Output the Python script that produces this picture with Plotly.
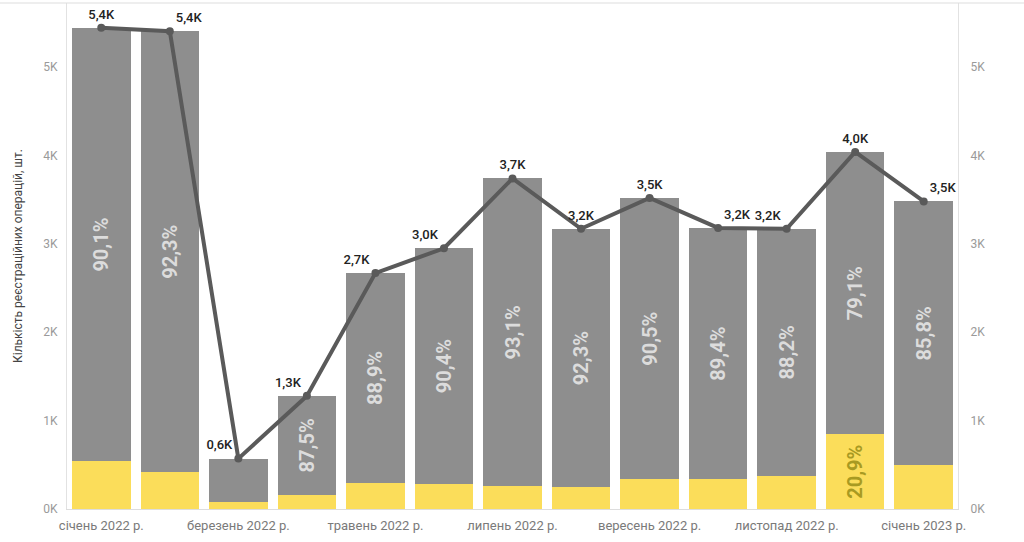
import plotly.graph_objects as go

months = ["січень 2022 р.", "лютий 2022 р.", "березень 2022 р.", "квітень 2022 р.",
          "травень 2022 р.", "червень 2022 р.", "липень 2022 р.", "серпень 2022 р.",
          "вересень 2022 р.", "жовтень 2022 р.", "листопад 2022 р.", "грудень 2022 р.",
          "січень 2023 р."]
yellow_vals = [539, 416, 80, 160, 296, 283, 258, 244, 334, 337, 374, 844, 494]
grey_vals = [4906, 4989, 490, 1120, 2374, 2667, 3482, 2926, 3186, 2843, 2796, 3196, 2986]
totals = [5445, 5405, 570, 1280, 2670, 2950, 3740, 3170, 3520, 3180, 3170, 4040, 3480]
grey_labels = ["90,1%", "92,3%", "", "87,5%", "88,9%", "90,4%", "93,1%", "92,3%",
               "90,5%", "89,4%", "88,2%", "79,1%", "85,8%"]
yellow_labels = ["", "", "", "", "", "", "", "", "", "", "", "20,9%", ""]
total_labels = ["5,4K", "5,4K", "0,6K", "1,3K", "2,7K", "3,0K", "3,7K", "3,2K",
                "3,5K", "3,2K", "3,2K", "4,0K", "3,5K"]
tick_show = ["січень 2022 р.", "березень 2022 р.", "травень 2022 р.", "липень 2022 р.",
             "вересень 2022 р.", "листопад 2022 р.", "січень 2023 р."]
y_ticks = [0, 1000, 2000, 3000, 4000, 5000]
y_tick_text = ["0K", "1K", "2K", "3K", "4K", "5K"]

FONT = "Roboto"
YMAX = 5725
label_pos = ["top center", "top right", "top left", "top left", "top left", "top left",
             "top center", "top center", "top center", "top right", "top left",
             "top center", "top right"]

fig = go.Figure()
fig.add_trace(go.Bar(
    x=months, y=yellow_vals, marker_color="#FBDD5A", marker_line_width=0,
    text=yellow_labels, textposition="inside", insidetextanchor="middle",
    textangle=-90, textfont=dict(family=FONT, size=20, color="#A89A22", weight="bold"),
    hoverinfo="skip", showlegend=False))
fig.add_trace(go.Bar(
    x=months, y=grey_vals, marker_color="#8E8E8E", marker_line_width=0,
    text=grey_labels, textposition="inside", insidetextanchor="middle",
    textangle=-90, textfont=dict(family=FONT, size=20, color="#DCDCDC", weight="bold"),
    hoverinfo="skip", showlegend=False))
fig.add_trace(go.Scatter(
    x=months, y=totals, mode="lines+markers+text",
    line=dict(color="#5A5A5A", width=4), marker=dict(color="#5A5A5A", size=8),
    text=total_labels, textposition=label_pos,
    textfont=dict(family=FONT, size=13, color="#222222", weight=500),
    cliponaxis=False, showlegend=False, hoverinfo="skip"))
# invisible trace for right axis
fig.add_trace(go.Scatter(x=months, y=totals, yaxis="y2", mode="markers",
                         marker=dict(opacity=0), showlegend=False, hoverinfo="skip"))

fig.update_layout(
    width=1024, height=542,
    margin=dict(l=67, r=66, t=3, b=33, autoexpand=False),
    paper_bgcolor="white", plot_bgcolor="white",
    barmode="stack", bargap=0.145,
    uniformtext=dict(mode="show", minsize=20),
    font=dict(family=FONT),
    xaxis=dict(categoryorder="array", categoryarray=months, range=[-0.5, len(months) - 0.5],
               tickmode="array", tickvals=tick_show, ticktext=tick_show,
               tickfont=dict(family=FONT, size=13, color="#7A7A7A"),
               showline=True, linecolor="#DDDDDD", linewidth=1,
               ticks="outside", ticklen=4, tickcolor="rgba(0,0,0,0)",
               showgrid=False, mirror=False, automargin=False),
    yaxis=dict(range=[0, YMAX], tickvals=y_ticks, ticktext=y_tick_text,
               tickfont=dict(family=FONT, size=12, color="#9A9A9A"),
               showgrid=False, zeroline=False, showline=True, linecolor="#E2E2E2",
               ticks="outside", ticklen=6, tickcolor="rgba(0,0,0,0)", automargin=False,
               title=dict(text="Кількість реєстраційних операцій, шт.",
                          font=dict(family=FONT, size=12, color="#444444"), standoff=18)),
    yaxis2=dict(range=[0, YMAX], overlaying="y", side="right", tickvals=y_ticks,
                ticktext=y_tick_text, tickfont=dict(family=FONT, size=12, color="#9A9A9A"),
                showgrid=False, zeroline=False, showline=True, linecolor="#E2E2E2",
                ticks="outside", ticklen=9, tickcolor="rgba(0,0,0,0)", automargin=False),
)
fig.add_shape(type="line", xref="paper", yref="paper", x0=-0.1, x1=1.1, y0=1.0, y1=1.0,
              line=dict(color="#DDDDDD", width=1))
fig.write_html("out.html")
